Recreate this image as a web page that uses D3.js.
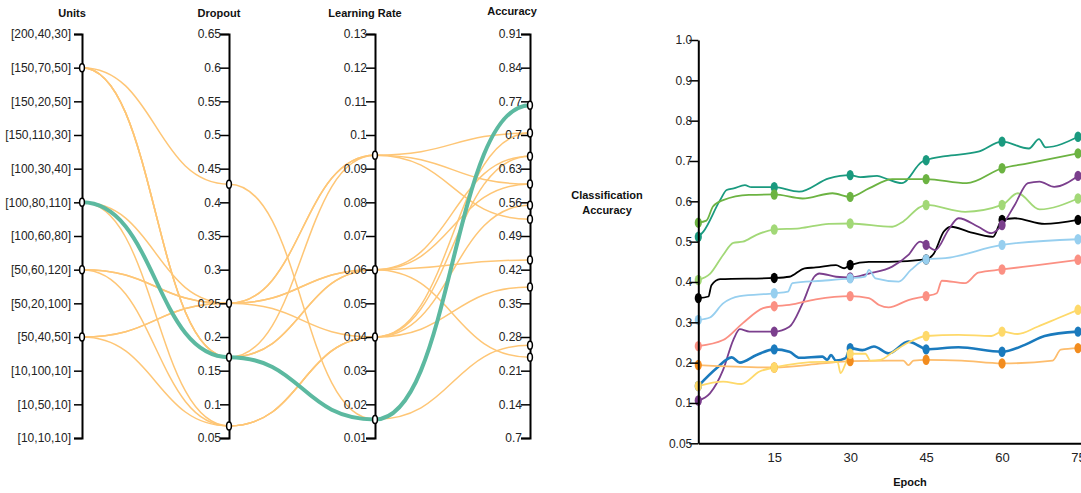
<!DOCTYPE html>
<html>
<head>
<meta charset="utf-8">
<script src="https://cdn.jsdelivr.net/npm/d3@7"></script>
<style>
  body { margin: 0; background: #fff; }
  svg { font-family: 'Liberation Sans', Arial, sans-serif; }
  .axis .domain { stroke: #000; stroke-width: 2; }
  .axis .tick line { stroke: #000; stroke-width: 1.5; }
  .axis .tick text { fill: #222; }
  .title { font-weight: bold; font-size: 11px; fill: #111; }
</style>
</head>
<body>
<script>
// ---- parallel coordinates data ----
const dims = ['Units', 'Dropout', 'Learning Rate', 'Accuracy'];
const unitCategories = ['[200,40,30]', '[150,70,50]', '[150,20,50]', '[150,110,30]', '[100,30,40]',
  '[100,80,110]', '[100,60,80]', '[50,60,120]', '[50,20,100]', '[50,40,50]',
  '[10,100,10]', '[10,50,10]', '[10,10,10]'];
const dropoutTicks = [0.05, 0.1, 0.15, 0.2, 0.25, 0.3, 0.35, 0.4, 0.45, 0.5, 0.55, 0.6, 0.65];
const lrTicks = [0.01, 0.02, 0.03, 0.04, 0.05, 0.06, 0.07, 0.08, 0.09, 0.1, 0.11, 0.12, 0.13];
const accTicks = [0.07, 0.14, 0.21, 0.28, 0.35, 0.42, 0.49, 0.56, 0.63, 0.7, 0.77, 0.84, 0.91];
const accTickLabels = ['0.7', '0.14', '0.21', '0.28', '0.35', '0.42', '0.49', '0.56', '0.63', '0.7', '0.77', '0.84', '0.91'];

const runUnits = ['[150,70,50]', '[100,80,110]', '[150,70,50]', '[150,70,50]', '[100,80,110]', '[50,60,120]',
  '[50,40,50]', '[100,80,110]', '[50,60,120]', '[50,40,50]', '[50,60,120]', '[50,40,50]', '[150,70,50]'];
const runDropout = [0.427, 0.17, 0.17, 0.17, 0.25, 0.25, 0.25, 0.068, 0.068, 0.068, 0.25, 0.25, 0.17];
const runLearningRate = [0.0155, 0.0155, 0.094, 0.06, 0.094, 0.06, 0.04, 0.04, 0.04, 0.04, 0.094, 0.06, 0.06];
const runAccuracy = [0.263, 0.762, 0.704, 0.656, 0.598, 0.44, 0.384, 0.704, 0.554, 0.656, 0.525, 0.238, 0.598];
const bestRun = 1;

// ---- training curves data: [epoch, accuracy] ----
const markerEpochs = [0, 15, 30, 45, 60, 75];
const epochTicks = [15, 30, 45, 60, 75];
const accYTicks = [0, 0.1, 0.2, 0.3, 0.4, 0.5, 0.6, 0.7, 0.8, 0.9, 1.0];
const accYLabels = ['0.05', '0.1', '0.2', '0.3', '0.4', '0.5', '0.6', '0.7', '0.8', '0.9', '1.0'];

const tealRun = [[0,0.512],[1,0.525],[4.3,0.603],[5.6,0.628],[7,0.632],[9.2,0.64],[10.5,0.635],[15,0.635],[19.9,0.624],[25.8,0.657],[30,0.665],[32,0.66],[35.3,0.663],[37.3,0.655],[40.2,0.645],[44.2,0.698],[45,0.702],[48.8,0.712],[55.3,0.723],[60,0.748],[65.3,0.731],[67.3,0.754],[68.6,0.734],[75,0.76]];
const greenRun = [[0,0.547],[1.6,0.552],[2.9,0.587],[4.9,0.603],[10,0.616],[15,0.617],[20.6,0.607],[26.5,0.62],[30,0.611],[33.7,0.632],[38.3,0.655],[45,0.655],[53,0.645],[60,0.682],[65.1,0.694],[75,0.719]];
const lightGreenRun = [[0,0.405],[2.3,0.42],[4.9,0.467],[6.9,0.497],[8.8,0.5],[11.5,0.517],[15,0.53],[20,0.533],[25.8,0.544],[30,0.545],[38.3,0.537],[40.5,0.55],[43.7,0.585],[45,0.591],[52.7,0.574],[60,0.591],[63.1,0.62],[67.4,0.58],[75,0.607]];
const blackRun = [[0,0.36],[2,0.364],[2.6,0.392],[4.3,0.407],[15,0.41],[18,0.413],[21,0.434],[23.2,0.436],[27.2,0.442],[28.8,0.434],[30,0.442],[33.7,0.45],[37.6,0.45],[45,0.456],[46.5,0.47],[48.5,0.525],[50,0.537],[53.3,0.525],[58.2,0.512],[60,0.554],[62.5,0.558],[68.4,0.544],[75,0.554]];
const purpleRun = [[0,0.106],[2.3,0.124],[4.9,0.182],[6.9,0.256],[8.2,0.283],[10.1,0.277],[15,0.277],[18,0.289],[20.6,0.347],[22.9,0.413],[23.9,0.421],[27.2,0.413],[30,0.411],[33.7,0.421],[38.3,0.438],[41.5,0.467],[43.8,0.5],[45,0.492],[46.8,0.479],[49.4,0.529],[51.4,0.558],[55.3,0.537],[57.9,0.521],[60,0.541],[62.5,0.591],[65.1,0.645],[67.4,0.649],[70.3,0.636],[75,0.663]];
const lightBlueRun = [[0,0.306],[2.3,0.312],[4.9,0.347],[8.2,0.365],[15,0.372],[17.7,0.376],[18.6,0.397],[24.5,0.403],[30,0.409],[33,0.413],[33.7,0.43],[35,0.409],[39.6,0.401],[42,0.43],[45,0.456],[48.8,0.459],[60,0.492],[75,0.506]];
const salmonRun = [[0,0.241],[4.9,0.256],[8.8,0.298],[12.8,0.335],[15,0.34],[18,0.343],[23.2,0.357],[30,0.365],[33.7,0.36],[35.7,0.343],[37.6,0.337],[41.5,0.355],[45,0.365],[47.1,0.372],[48.1,0.403],[52.7,0.397],[55.3,0.423],[60,0.431],[67,0.442],[75,0.455]];
const blueRun = [[0,0.142],[3.6,0.186],[6.6,0.213],[8.2,0.2],[11.5,0.219],[15,0.233],[18,0.227],[20,0.212],[24.5,0.215],[25.5,0.207],[26.2,0.219],[27.2,0.205],[29.1,0.211],[30,0.236],[32.4,0.231],[34.7,0.24],[37.6,0.223],[41.5,0.252],[43.8,0.24],[45,0.233],[51.4,0.238],[60,0.227],[64.5,0.244],[68.4,0.266],[75,0.277]];
const orangeRun = [[0,0.194],[15,0.188],[24.5,0.198],[30,0.204],[37.6,0.205],[40.5,0.205],[41.5,0.194],[42.5,0.205],[45,0.207],[52,0.205],[60,0.198],[70,0.205],[71.6,0.232],[75,0.236]];
const yellowRun = [[0,0.142],[4.9,0.153],[8.5,0.147],[12.1,0.178],[15,0.188],[24.5,0.202],[27.5,0.202],[28.1,0.174],[29.1,0.198],[30,0.222],[33,0.222],[34,0.205],[36,0.207],[38.3,0.225],[41.5,0.25],[45,0.266],[51.4,0.269],[57.9,0.266],[60,0.277],[63.1,0.271],[67,0.289],[71,0.31],[75,0.331]];

const runs = [
  { values: tealRun, line: '#1a9a7f', dot: '#1a9a7f', w: 1.8 },
  { values: greenRun, line: '#6cb342', dot: '#6cb342', w: 1.8 },
  { values: lightGreenRun, line: '#a2d877', dot: '#a2d877', w: 1.8 },
  { values: blackRun, line: '#000000', dot: '#000000', w: 1.8 },
  { values: purpleRun, line: '#7b3f8d', dot: '#7b3f8d', w: 1.8 },
  { values: lightBlueRun, line: '#97cfef', dot: '#97cfef', w: 1.8 },
  { values: salmonRun, line: '#fb9083', dot: '#fb9083', w: 1.8 },
  { values: blueRun, line: '#1a7abd', dot: '#1a7abd', w: 2.6 },
  { values: orangeRun, line: '#fdbd6d', dot: '#f28c1e', w: 1.8 },
  { values: yellowRun, line: '#fed96a', dot: '#fed96a', w: 1.8 }
];

const width = 1081, height = 493;
const svg = d3.select('body').append('svg')
  .attr('width', width)
  .attr('height', height);

// ---------- parallel coordinates ----------
const xDim = d3.scaleOrdinal().domain(dims).range([82, 229, 375, 530]);
const yScales = {
  'Units': d3.scalePoint().domain(unitCategories).range([34, 438]),
  'Dropout': d3.scaleLinear().domain([0.05, 0.65]).range([438, 34]),
  'Learning Rate': d3.scaleLinear().domain([0.01, 0.13]).range([438, 34]),
  'Accuracy': d3.scaleLinear().domain([0.07, 0.91]).range([438, 34])
};

const runs3 = runUnits.map((u, i) => ({
  'Units': u, 'Dropout': runDropout[i], 'Learning Rate': runLearningRate[i], 'Accuracy': runAccuracy[i], best: i === bestRun
}));

const pcLine = d3.line().curve(d3.curveBumpX);
const pathOf = r => pcLine(dims.map(d => [xDim(d), yScales[d](r[d])]));

const pc = svg.append('g');
pc.selectAll('path.run')
  .data(runs3.filter(r => !r.best).concat(runs3.filter(r => r.best)))
  .enter().append('path')
  .attr('class', 'run')
  .attr('d', pathOf)
  .attr('fill', 'none')
  .attr('stroke', r => r.best ? '#5cb9a0' : '#fec676')
  .attr('stroke-width', r => r.best ? 4 : 1.5);

// axes
dims.forEach(d => {
  let ax = d3.axisLeft(yScales[d]).tickSizeOuter(0);
  if (d === 'Units') ax.tickSize(8).tickPadding(3);
  else ax.tickSize(9).tickPadding(-1);
  if (d === 'Dropout') ax.tickValues(dropoutTicks).tickFormat(v => String(v));
  if (d === 'Learning Rate') ax.tickValues(lrTicks).tickFormat(v => String(v));
  if (d === 'Accuracy') ax.tickValues(accTicks).tickFormat((v, i) => accTickLabels[i]);
  let g = svg.append('g')
    .attr('class', 'axis')
    .attr('transform', 'translate(' + xDim(d) + ',0)')
    .call(ax);
  g.selectAll('text').attr('font-size', 12).attr('font-family', "'Liberation Sans', Arial, sans-serif");
  svg.append('text')
    .attr('class', 'title')
    .attr('x', xDim(d) - (d === 'Accuracy' ? 18 : 10))
    .attr('y', d === 'Accuracy' ? 15 : 17)
    .attr('text-anchor', 'middle')
    .text(d);
});

// value markers on the axes
let marks = [];
dims.forEach(d => {
  let seen = new Set();
  runs3.forEach(r => {
    if (!seen.has(r[d])) { seen.add(r[d]); marks.push([xDim(d), yScales[d](r[d])]); }
  });
});
svg.append('g').selectAll('ellipse')
  .data(marks)
  .enter().append('ellipse')
  .attr('cx', m => m[0])
  .attr('cy', m => m[1])
  .attr('rx', 2.4)
  .attr('ry', 4)
  .attr('fill', '#fff')
  .attr('stroke', '#000')
  .attr('stroke-width', 1.5);

// ---------- training curves ----------
const xEpoch = d3.scaleLinear().domain([0, 75]).range([698.3, 1078]);
const yAcc = d3.scaleLinear().domain([0, 1]).range([443.3, 40]);

const lc = svg.append('g');
const lineGen = d3.line()
  .x(p => xEpoch(p[0]))
  .y(p => yAcc(p[1]))
  .curve(d3.curveMonotoneX);

runs.forEach(s => {
  lc.append('path')
    .attr('d', lineGen(s.values))
    .attr('fill', 'none')
    .attr('stroke', s.line)
    .attr('stroke-width', s.w);
});
runs.forEach(s => {
  lc.selectAll(null)
    .data(s.values.filter(p => markerEpochs.includes(p[0])))
    .enter().append('ellipse')
    .attr('cx', p => xEpoch(p[0]))
    .attr('cy', p => yAcc(p[1]))
    .attr('rx', 3.6)
    .attr('ry', 5.2)
    .attr('fill', s.dot);
});

let yAx = svg.append('g')
  .attr('class', 'axis')
  .attr('transform', 'translate(698.3,0)')
  .call(d3.axisLeft(yAcc).tickValues(accYTicks).tickFormat((v, i) => accYLabels[i]).tickSize(9).tickPadding(-3).tickSizeOuter(0));
yAx.selectAll('text').attr('font-size', 12).attr('font-family', "'Liberation Sans', Arial, sans-serif");

let xScaleAxis = d3.scaleLinear().domain([0, 80]).range([xEpoch(0), xEpoch(80)]);
let xAx = svg.append('g')
  .attr('class', 'axis')
  .attr('transform', 'translate(0,443.3)')
  .call(d3.axisBottom(xScaleAxis).tickValues(epochTicks).tickSize(0).tickPadding(9).tickSizeOuter(0));
xAx.select('.domain').attr('stroke-width', 2);
xAx.selectAll('text').attr('font-size', 13).attr('font-family', "'Liberation Sans', Arial, sans-serif");

svg.append('text')
  .attr('class', 'title')
  .attr('x', 910)
  .attr('y', 486)
  .attr('text-anchor', 'middle')
  .text('Epoch');

let yTitle = svg.append('text')
  .attr('class', 'title')
  .attr('text-anchor', 'middle');
yTitle.append('tspan').attr('x', 607).attr('y', 199).text('Classification');
yTitle.append('tspan').attr('x', 607).attr('y', 214).text('Accuracy');
</script>
</body>
</html>
